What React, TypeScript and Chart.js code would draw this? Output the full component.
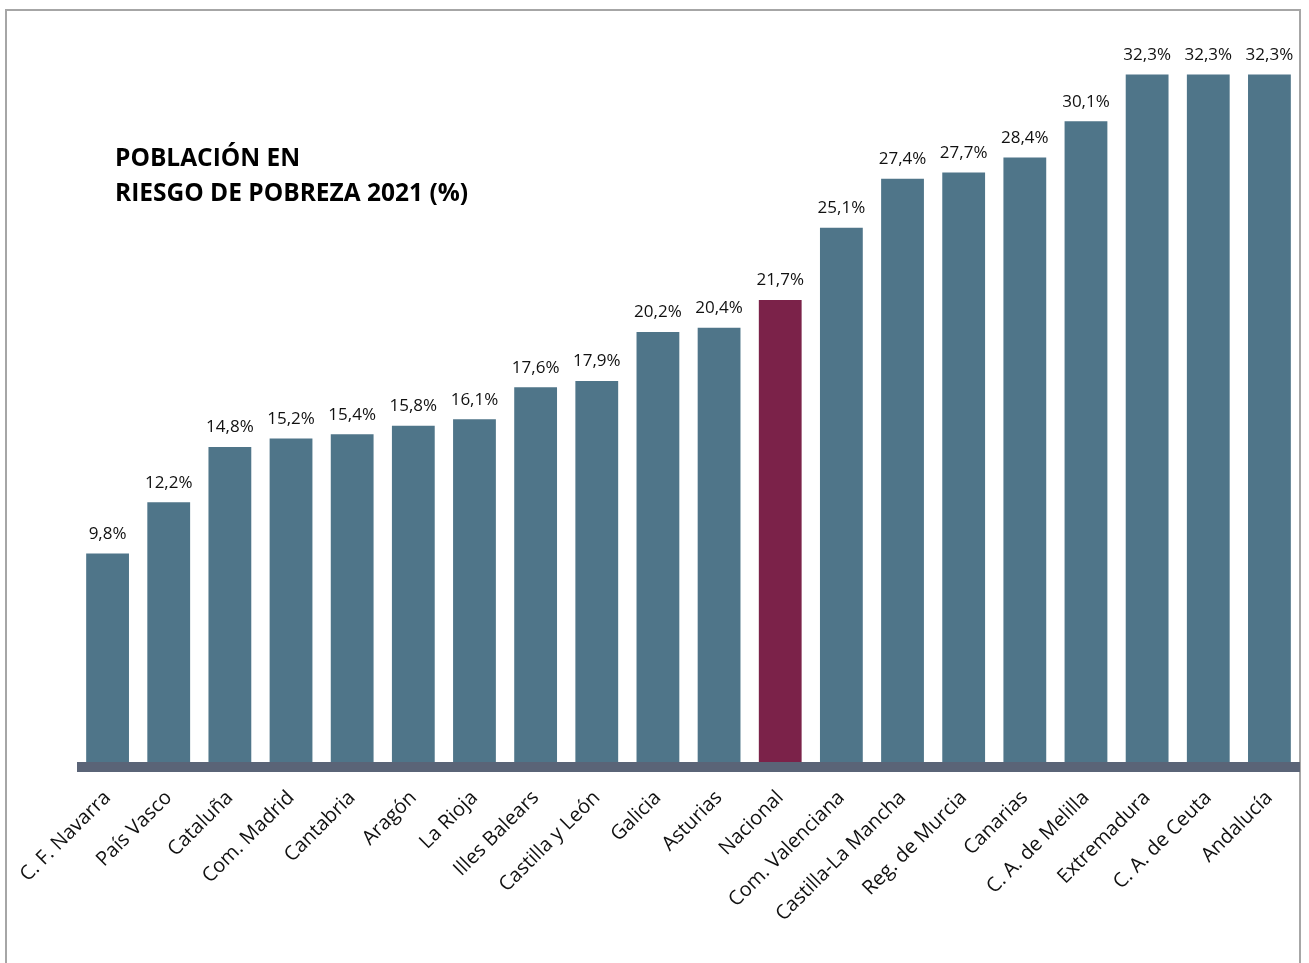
import React, { useEffect, useRef } from "react";
import { Chart, registerables } from "chart.js";

Chart.register(...registerables);

const categories = [
  "C. F. Navarra", "País Vasco", "Cataluña", "Com. Madrid", "Cantabria", "Aragón",
  "La Rioja", "Illes Balears", "Castilla y León", "Galicia", "Asturias", "Nacional",
  "Com. Valenciana", "Castilla-La Mancha", "Reg. de Murcia", "Canarias",
  "C. A. de Melilla", "Extremadura", "C. A. de Ceuta", "Andalucía",
];
const values = [
  9.8, 12.2, 14.8, 15.2, 15.4, 15.8, 16.1, 17.6, 17.9, 20.2, 20.4, 21.7,
  25.1, 27.4, 27.7, 28.4, 30.1, 32.3, 32.3, 32.3,
];
const highlight = "Nacional";
const titleLines = ["POBLACIÓN EN", "RIESGO DE POBREZA 2021 (%)"];

const BAR = "#4f7589";
const HIGHLIGHT = "#7b2249";
const AXIS = "#5a6477";
const FONT = "'Open Sans', sans-serif";

const fmt = (v: number) => v.toFixed(1).replace(".", ",") + "%";

const extrasPlugin = {
  id: "extras",
  afterDatasetsDraw(chart: any) {
    const { ctx, chartArea } = chart;
    ctx.save();
    ctx.fillStyle = AXIS;
    ctx.fillRect(chartArea.left, chartArea.bottom, chartArea.right - chartArea.left, 10);
    const meta = chart.getDatasetMeta(0);
    ctx.fillStyle = "#111";
    ctx.font = `17px ${FONT}`;
    ctx.textAlign = "center";
    ctx.textBaseline = "bottom";
    meta.data.forEach((bar: any, i: number) => {
      ctx.fillText(fmt(values[i]), bar.x, bar.y - 11);
    });
    ctx.restore();
  },
};

export default function App() {
  const ref = useRef<HTMLCanvasElement>(null);
  useEffect(() => {
    if (!ref.current) return;
    const chart = new Chart(ref.current, {
      type: "bar",
      data: {
        labels: categories,
        datasets: [
          {
            data: values,
            backgroundColor: categories.map((c) => (c === highlight ? HIGHLIGHT : BAR)),
            categoryPercentage: 1,
            barPercentage: 0.7,
          },
        ],
      },
      options: {
        responsive: false,
        animation: false,
        layout: { padding: { left: 77, right: 9, top: 17, bottom: 0 } },
        plugins: { legend: { display: false }, tooltip: { enabled: false } },
        scales: {
          y: { display: false, min: 0, max: 35 },
          x: {
            grid: { display: false, drawTicks: false },
            border: { display: false },
            afterFit: (scale: any) => {
              scale.height = 201;
              scale.paddingLeft = 0;
              scale.paddingRight = 0;
            },
            ticks: {
              autoSkip: false,
              minRotation: 45,
              maxRotation: 45,
              padding: 24,
              color: "#111",
              font: { family: FONT, size: 20 },
            },
          },
        },
      },
      plugins: [extrasPlugin],
    });
    return () => chart.destroy();
  }, []);

  return (
    <div style={{ position: "fixed", left: 0, top: 0, width: 1309, height: 963, overflow: "hidden", background: "#fff" }}>
      <div
        style={{
          position: "absolute", left: 5, top: 9, width: 1296, height: 1000,
          border: "2px solid #a6a6a6", boxSizing: "border-box",
        }}
      />
      <canvas ref={ref} width={1309} height={963} style={{ position: "absolute", left: 0, top: 0 }} />
      <div
        style={{
          position: "absolute", left: 115, top: 139, fontFamily: FONT, fontWeight: 700,
          fontSize: 24.5, lineHeight: "35px", color: "#000",
        }}
      >
        {titleLines.map((l) => (
          <div key={l}>{l}</div>
        ))}
      </div>
    </div>
  );
}
